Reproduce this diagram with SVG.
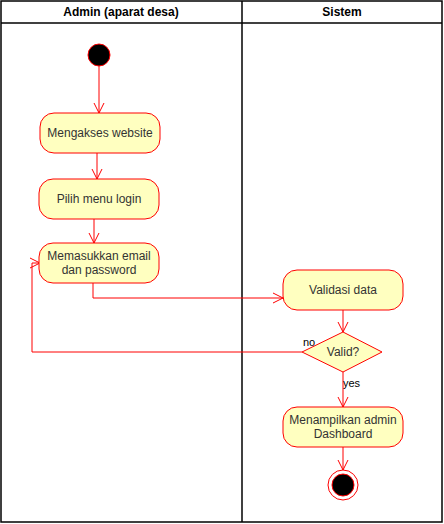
<svg xmlns="http://www.w3.org/2000/svg" width="444" height="524" viewBox="0 0 444 524">
<style>
.lane{fill:none;stroke:#000;stroke-width:1.5}
.act{fill:#FFFFC0;stroke:#FF0000;stroke-width:1}
.t{font-family:"Liberation Sans",Arial,sans-serif;font-size:12px;fill:#333;text-anchor:middle}
.h{font-family:"Liberation Sans",Arial,sans-serif;font-size:12px;font-weight:bold;fill:#000;text-anchor:middle}
.c{fill:none;stroke:#FF0000;stroke-width:1}
.lbl{font-family:"Liberation Sans",Arial,sans-serif;font-size:11px;fill:#000}
</style>
<defs>
<marker id="arr" viewBox="0 0 12 12" refX="11" refY="6" markerWidth="12" markerHeight="12" markerUnits="userSpaceOnUse" orient="auto">
<path d="M1,1 L11,6 L1,11" fill="none" stroke="#FF0000" stroke-width="1"/>
</marker>
</defs>
<rect width="444" height="524" fill="#fff"/>
<g id="pool">
<rect class="lane" x="1" y="1" width="441" height="521"/>
<line class="lane" x1="1" y1="23" x2="442" y2="23"/>
<line class="lane" x1="242" y1="1" x2="242" y2="522"/>
<text class="h" x="121" y="16">Admin (aparat desa)</text>
<text class="h" x="342" y="16">Sistem</text>
</g>
<g id="connectors">
<path class="c" d="M99,66 V113" marker-end="url(#arr)"/>
<path class="c" d="M97,153 V179" marker-end="url(#arr)"/>
<path class="c" d="M94,219 V243" marker-end="url(#arr)"/>
<path class="c" d="M93,283 V298 H283" marker-end="url(#arr)"/>
<path class="c" d="M343,310 V332" marker-end="url(#arr)"/>
<path class="c" d="M302,352 H32 V263 H40" marker-end="url(#arr)"/>
<path class="c" d="M343,372 V407" marker-end="url(#arr)"/>
<path class="c" d="M343,447 V470" marker-end="url(#arr)"/>
<rect x="302" y="336" width="13" height="12" fill="#fff"/>
<text class="lbl" x="303" y="346">no</text>
<text class="lbl" x="343" y="387">yes</text>
</g>
<g id="start">
<circle cx="99" cy="55" r="11" fill="#000" stroke="#FF0000" stroke-width="1"/>
</g>
<g id="n1">
<rect class="act" x="40" y="113" width="120" height="40" rx="14"/>
<text class="t" x="100" y="137">Mengakses website</text>
</g>
<g id="n2">
<rect class="act" x="39" y="179" width="120" height="40" rx="14"/>
<text class="t" x="99" y="203">Pilih menu login</text>
</g>
<g id="n3">
<rect class="act" x="39" y="243" width="120" height="40" rx="14"/>
<text class="t" x="99" y="260">Memasukkan email</text>
<text class="t" x="99" y="274">dan password</text>
</g>
<g id="n4">
<rect class="act" x="283" y="270" width="120" height="40" rx="14"/>
<text class="t" x="343" y="294">Validasi data</text>
</g>
<g id="decision">
<path class="act" d="M343,332 L382,352 L343,372 L302,352 Z"/>
<text class="t" x="343" y="356">Valid?</text>
</g>
<g id="n5">
<rect class="act" x="283" y="407" width="120" height="40" rx="14"/>
<text class="t" x="343" y="424">Menampilkan admin</text>
<text class="t" x="343" y="438">Dashboard</text>
</g>
<g id="end">
<circle cx="343" cy="485" r="15" fill="none" stroke="#FF0000" stroke-width="1"/>
<circle cx="343" cy="485" r="11" fill="#000" stroke="#FF0000" stroke-width="1"/>
</g>
</svg>
